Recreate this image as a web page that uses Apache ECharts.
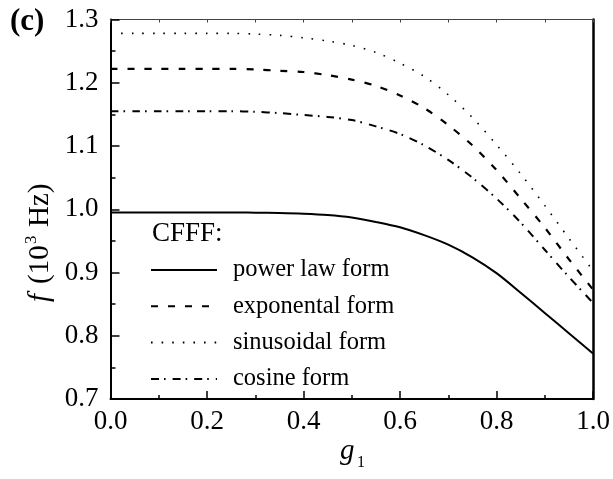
<!DOCTYPE html>
<html>
<head>
<meta charset="utf-8">
<script src="https://cdn.jsdelivr.net/npm/echarts@6/dist/echarts.min.js"></script>
<style>
  html, body { margin: 0; padding: 0; background: #fff; }
  #chart { width: 613px; height: 479px; }
</style>
</head>
<body>
<div id="chart"></div>
<script>
// Gradation index g1 (sampled every 0.05)
const g1 = [0, 0.05, 0.1, 0.15, 0.2, 0.25, 0.3, 0.35, 0.4, 0.45, 0.5,
            0.55, 0.6, 0.65, 0.7, 0.75, 0.8, 0.85, 0.9, 0.95, 1.0];

// Fundamental frequency f (10^3 Hz) for each CFFF gradation law
const powerLaw    = [0.995, 0.995, 0.995, 0.995, 0.995, 0.995, 0.9945, 0.994, 0.993, 0.991, 0.987,
                     0.980, 0.9715, 0.959, 0.944, 0.924, 0.899, 0.868, 0.836, 0.804, 0.772];
const exponental  = [1.222, 1.222, 1.222, 1.222, 1.222, 1.222, 1.221, 1.219, 1.217, 1.212, 1.205,
                     1.195, 1.180, 1.160, 1.133, 1.101, 1.062, 1.017, 0.971, 0.921, 0.873];
const sinusoidal  = [1.278, 1.278, 1.278, 1.278, 1.278, 1.278, 1.277, 1.275, 1.271, 1.266, 1.259,
                     1.248, 1.231, 1.210, 1.181, 1.145, 1.102, 1.056, 1.006, 0.954, 0.903];
const cosine      = [1.155, 1.155, 1.155, 1.155, 1.155, 1.155, 1.154, 1.152, 1.149, 1.146, 1.141,
                     1.131, 1.119, 1.101, 1.078, 1.050, 1.017, 0.979, 0.936, 0.893, 0.852];

const seriesNames = ['power law form', 'exponental form', 'sinusoidal form', 'cosine form'];

const xTicks = [0, 0.2, 0.4, 0.6, 0.8, 1.0];
const yTicks = [0.7, 0.8, 0.9, 1.0, 1.1, 1.2, 1.3];

const FONT = 'Liberation Serif';

function pairs(ys) { return g1.map((g, i) => [g, ys[i]]); }

const chart = echarts.init(document.getElementById('chart'), null, { renderer: 'canvas' });

const GRID = { left: 110.5, right: 20, top: 19.5, bottom: 80 };

function lineSeries(name, ys, type, width) {
  return {
    name: name,
    type: 'line',
    data: pairs(ys),
    smooth: 0.3,
    symbol: 'none',
    showSymbol: false,
    xAxisIndex: 0,
    yAxisIndex: 0,
    itemStyle: { color: '#000' },
    lineStyle: { color: '#000', width: width, type: type, cap: 'butt' },
    emphasis: { disabled: true },
    z: 3
  };
}

chart.setOption({
  animation: false,
  backgroundColor: '#fff',
  grid: Object.assign({ containLabel: false }, GRID),
  xAxis: [
    {
      type: 'value', position: 'bottom',
      min: xTicks[0], max: xTicks[xTicks.length - 1], interval: 0.2,
      axisLine: { show: true, onZero: false, lineStyle: { color: '#000', width: 2 } },
      axisTick: { show: true, inside: true, length: 8, lineStyle: { color: '#000', width: 1.5 } },
      minorTick: { show: true, splitNumber: 2, length: 4, lineStyle: { color: '#000', width: 1.5 } },
      axisLabel: { color: '#000', fontFamily: FONT, fontSize: 27, margin: 9,
                   formatter: v => v.toFixed(1) },
      splitLine: { show: false }
    },
    {
      type: 'value', position: 'top',
      min: 0, max: 1, interval: 0.1,
      axisLine: { show: true, onZero: false, lineStyle: { color: '#444', width: 1 } },
      axisTick: { show: true, inside: true, length: 3, lineStyle: { color: '#444', width: 1 } },
      axisLabel: { show: false },
      splitLine: { show: false }
    }
  ],
  yAxis: [
    {
      type: 'value', position: 'left',
      min: yTicks[0], max: yTicks[yTicks.length - 1], interval: 0.1,
      axisLine: { show: true, onZero: false, lineStyle: { color: '#000', width: 2 } },
      axisTick: { show: true, inside: true, length: 9, lineStyle: { color: '#000', width: 1.5 } },
      minorTick: { show: true, splitNumber: 2, length: 5, lineStyle: { color: '#000', width: 1.5 } },
      axisLabel: { color: '#000', fontFamily: FONT, fontSize: 27, margin: 12,
                   formatter: v => v.toFixed(1) },
      splitLine: { show: false }
    },
    {
      type: 'value', position: 'right',
      min: 0.7, max: 1.3, interval: 0.1,
      axisLine: { show: true, onZero: false, lineStyle: { color: '#000', width: 2.5 } },
      axisTick: { show: false },
      axisLabel: { show: false },
      splitLine: { show: false }
    }
  ],
  legend: {
    show: true,
    orient: 'vertical',
    left: 150,
    top: 257,
    padding: 0,
    itemWidth: 66,
    itemHeight: 14,
    itemGap: 10.3,
    selectedMode: false,
    data: seriesNames,
    itemStyle: { opacity: 0 },
    textStyle: { color: '#000', fontFamily: FONT, fontSize: 24.5, lineHeight: 26,
                 padding: [0, 0, 0, 11] }
  },
  series: [
    lineSeries(seriesNames[0], powerLaw, 'solid', 2),
    lineSeries(seriesNames[1], exponental, [7, 10], 2.2),
    lineSeries(seriesNames[2], sinusoidal, [1.6, 9], 1.6),
    lineSeries(seriesNames[3], cosine, [8, 5, 1.6, 7], 2)
  ],
  graphic: [
    {
      type: 'text', left: 10, top: 6,
      style: { text: '(c)', font: 'bold 31px "Liberation Serif"', fill: '#000' }
    },
    {
      type: 'text', left: 152, top: 220,
      style: { text: 'CFFF:', font: '27px "Liberation Serif"', fill: '#000' }
    },
    // x-axis title: g with subscript 1
    {
      type: 'text', x: 340, y: 437,
      style: { text: 'g', font: 'italic 29px "Liberation Serif"', fill: '#000' }
    },
    {
      type: 'text', x: 357, y: 455,
      style: { text: '1', font: '16px "Liberation Serif"', fill: '#000' }
    },
    // y-axis title: f (10^3 Hz), reading bottom to top
    {
      type: 'group', x: 26, y: 302, rotation: Math.PI / 2,
      children: [
        { type: 'text', x: 0, y: 0,
          style: { text: 'f', font: 'italic 29px "Liberation Serif"', fill: '#000' } },
        { type: 'text', x: 18, y: 0,
          style: { text: '(10', font: '29px "Liberation Serif"', fill: '#000' } },
        { type: 'text', x: 58, y: -3,
          style: { text: '3', font: '17px "Liberation Serif"', fill: '#000' } },
        { type: 'text', x: 75, y: 0,
          style: { text: 'Hz)', font: '29px "Liberation Serif"', fill: '#000' } }
      ]
    }
  ]
});
</script>
</body>
</html>
